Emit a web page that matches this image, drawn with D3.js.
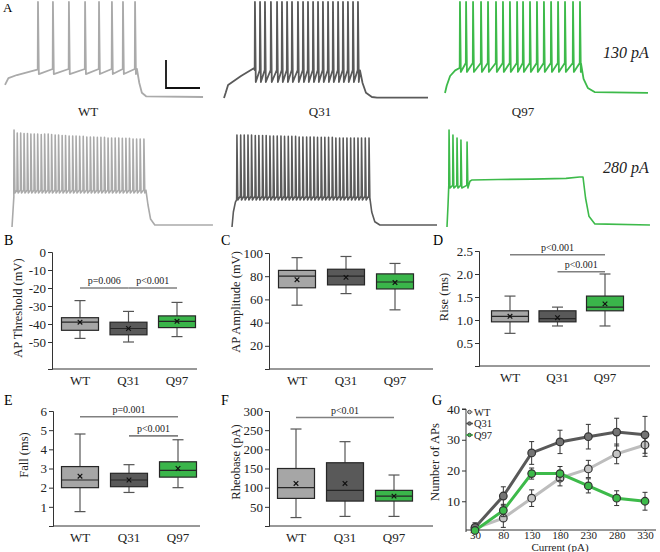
<!DOCTYPE html>
<html><head><meta charset="utf-8">
<script src="https://cdn.jsdelivr.net/npm/d3@7"></script>
<style>
body{margin:0;background:#fff}
svg{font-family:"Liberation Serif","Times New Roman",serif}
</style></head><body>
<svg id="fig" width="660" height="552"></svg>
<script>
var GROUPS = ["WT", "Q31", "Q97"];
var LINE_COL = {WT: "#aaaaaa", Q31: "#5a5a5a", Q97: "#3dba4a"};
var BOX_COL = {WT: "#a6a6a6", Q31: "#595959", Q97: "#3ab54a"};

// ---- traces (ms, mV) ----
var wt130 = {
  rise: [[0,-56.4],[20,-51.5],[70,-49.3],[190,-45.5]],
  spikes: [194,282,376,471,553,629,694,765],
  peaks: [2.9], trough: -48.6, thr: -45,
  tail: [[776,-45],[790,-55],[805,-62],[830,-64.5],[1165,-65]]
};
var q31_130 = {
  rise: [[0,-65.7],[10,-62],[24,-56.4],[100,-50],[178,-44.3]],
  spikes: [182,212,241,276,312,341,371,400,435,465,494,524,553,582,612,641,671,700,729,759,788],
  peaks: [2.9], trough: -54.3, thr: -45.7,
  tail: [[800,-46],[815,-55],[835,-62],[870,-65],[900,-65.5],[1200,-65.5]]
};
var q97_130 = {
  rise: [[0,-62.1],[10,-57],[30,-50],[60,-46],[86,-44.3]],
  spikes: [88,124,165,212,253,300,341,382,424,459,500,541,582,624,665,706,753,794],
  peaks: [2.9], trough: -47.1, thr: -40.7,
  tail: [[800,-41],[815,-52],[840,-58.5],[880,-61.5],[1194,-62]]
};
var wt280 = {
  rise: [[0,-65.7],[8,-50],[11,-44]],
  spikes: [12,31,51,71,91,111,131,151,172,192,213,233,254,274,295,315,336,357,377,398,419,440,461,481,502,523,544,565,586,607,628,649,670,691,712,733,754,776],
  peaks: [3.6,1.4,1.4,1.0,1.0,0.7,0.7,0.7,0.4,0.7,0.7,0.4,0,0,-0.4,-0.4,-0.7,-0.7,-0.7,-1.0,-1.0,-1.4,-1.4,-1.4,-1.7,-1.7,-1.7,-2.1,-2.1,-2.1,-2.1,-2.4,-2.4,-2.4,-2.9,-2.9,-2.9,-2.9],
  trough: -41.4, thr: -39.3,
  tail: [[788,-39.5],[800,-50],[815,-60],[840,-64.3],[1182,-64.3]]
};
var q31_280 = {
  rise: [[0,-65.7],[8,-55],[20,-48],[27,-46.4]],
  spikes: [29,51,72,94,115,137,158,180,201,223,244,266,288,309,331,352,374,395,417,439,460,482,503,525,546,568,590,611,633,654,676,698,719,741,762,784,806],
  peaks: [0,0,0,0,0,-0.4,-0.4,-0.4,-0.4,-0.7,-0.7,-0.7,-0.7,-1.0,-1.0,-1.0,-1.0,-1.4,-1.4,-1.4,-1.4,-1.4,-1.7,-1.7,-1.7,-1.7,-1.7,-2.1,-2.1,-2.1,-2.1,-2.1,-2.1,-2.1,-2.1,-2.1,-2.1],
  trough: -46.4, thr: -43.6,
  tail: [[810,-44],[822,-55],[840,-62],[870,-64.3],[1206,-64.3]]
};
var q97_280 = {
  rise: [[0,-65.7],[6,-50]],
  spikes: [12,35,59,82,118],
  peaks: [3.6,0,-2.1,-3.6,-5],
  trough: -37.9, thr: -36,
  tail: [[135,-33],[147,-32.1],[300,-31.8],[500,-31.5],[700,-31],[780,-30],[800,-30],[815,-45],[835,-58],[870,-63.5],[1194,-64.3]]
};
var traceLabels = ["WT", "Q31", "Q97"];
var stepLabels = ["130 pA", "280 pA"];
var scaleBar = {ms: 200, mV: 20};

// ---- box plot stats: min, q1, median, q3, max, mean ----
var thresholdStats = [
  {g:"WT", min:-48, q1:-43.5, med:-39, q3:-36.5, max:-27, mean:-39},
  {g:"Q31", min:-50, q1:-46, med:-42.5, q3:-39, max:-33, mean:-42.5},
  {g:"Q97", min:-47, q1:-42, med:-38.5, q3:-35.5, max:-28, mean:-38.5}
];
var amplitudeStats = [
  {g:"WT", min:55, q1:70, med:80, q3:85, max:96, mean:77},
  {g:"Q31", min:65, q1:72.5, med:80, q3:86, max:97, mean:79},
  {g:"Q97", min:51, q1:69, med:75, q3:82, max:91, mean:74.5}
];
var riseStats = [
  {g:"WT", min:0.71, q1:0.96, med:1.08, q3:1.2, max:1.52, mean:1.08},
  {g:"Q31", min:0.87, q1:0.96, med:1.03, q3:1.2, max:1.28, mean:1.05},
  {g:"Q97", min:0.87, q1:1.2, med:1.28, q3:1.52, max:2.0, mean:1.35}
];
var fallStats = [
  {g:"WT", min:0.75, q1:2.0, med:2.4, q3:3.1, max:4.8, mean:2.6},
  {g:"Q31", min:1.75, q1:2.05, med:2.4, q3:2.75, max:3.2, mean:2.4},
  {g:"Q97", min:2.0, q1:2.55, med:2.9, q3:3.35, max:4.5, mean:3.0}
];
var rheobaseStats = [
  {g:"WT", min:22, q1:72, med:100, q3:150, max:253, mean:111},
  {g:"Q31", min:25, q1:65, med:93, q3:165, max:220, mean:111},
  {g:"Q97", min:25, q1:65, med:78, q3:93, max:133, mean:78}
];
var thresholdSig = [{a:"WT", b:"Q31", y:-20, label:"p=0.006"}, {a:"Q31", b:"Q97", y:-20, label:"p<0.001"}];
var riseSig = [{a:"WT", b:"Q97", y:2.42, label:"p<0.001"}, {a:"Q31", b:"Q97", y:2.05, label:"p<0.001"}];
var fallSig = [{a:"WT", b:"Q97", y:5.7, label:"p=0.001"}, {a:"Q31", b:"Q97", y:4.7, label:"p<0.001"}];
var rheobaseSig = [{a:"WT", b:"Q97", y:283, label:"p<0.01"}];

// ---- panel G ----
var currents = [30, 80, 130, 180, 230, 280, 330];
var apWT = [1.2, 4.5, 11, 17.5, 20.5, 25.4, 28.3];
var apWTerr = [1, 3, 2.7, 2.5, 2.8, 3.2, 3.7];
var apQ31 = [1.5, 11.7, 25.7, 29.3, 31, 32.5, 31.6];
var apQ31err = [1.5, 3, 3.7, 3.8, 4, 4.5, 6];
var apQ97 = [0.5, 7, 19, 19, 15, 11, 10];
var apQ97err = [0.5, 2, 1.8, 2.3, 2.3, 2.4, 2.9];

var svg = d3.select("#fig");

// ================= Panel A =================
svg.append("text").attr("x", 3).attr("y", 12).attr("font-size", 13).text("A");

var traceLayout = [
  {d: wt130, x0: 5, rest: 97, g: "WT"},
  {d: q31_130, x0: 224, rest: 97, g: "Q31"},
  {d: q97_130, x0: 445, rest: 97, g: "Q97"},
  {d: wt280, x0: 12, rest: 226, g: "WT"},
  {d: q31_280, x0: 232, rest: 226, g: "Q31"},
  {d: q97_280, x0: 447, rest: 226, g: "Q97"}
];

function tracePoints(tr) {
  var pts = tr.rise.slice();
  tr.spikes.forEach(function(ts, i) {
    var pk = tr.peaks[Math.min(i, tr.peaks.length - 1)];
    pts.push([ts - 1.5, tr.thr]);
    pts.push([ts, pk]);
    pts.push([ts + 5, tr.trough]);
  });
  return pts.concat(tr.tail);
}

var firstScales;
traceLayout.forEach(function(L, i) {
  var xs = d3.scaleLinear().domain([0, 1000]).range([L.x0, L.x0 + 170]);
  var ys = d3.scaleLinear().domain([-65, 5]).range([L.rest, L.rest - 98]);
  if (i == 0) firstScales = {x: xs, y: ys};
  var line = d3.line().x(function(p){ return xs(p[0]); }).y(function(p){ return ys(p[1]); });
  svg.append("path")
    .attr("d", line(tracePoints(L.d)))
    .attr("fill", "none")
    .attr("stroke", LINE_COL[L.g])
    .attr("stroke-width", i < 3 ? 1.8 : 1.6)
    .attr("stroke-linejoin", "round");
});

// scale bar
var sbx = 166, sby = 88;
var sbw = firstScales.x(scaleBar.ms) - firstScales.x(0);
var sbh = firstScales.y(-65) - firstScales.y(-65 + scaleBar.mV);
svg.append("path")
  .attr("d", "M" + sbx + "," + (sby - sbh) + "V" + sby + "H" + (sbx + sbw))
  .attr("fill", "none").attr("stroke", "#111").attr("stroke-width", 1.8);

[88, 320, 523].forEach(function(x, i) {
  svg.append("text").attr("x", x).attr("y", 116).attr("text-anchor", "middle")
    .attr("font-size", 13).attr("fill", "#222").text(traceLabels[i]);
});
[58, 173].forEach(function(y, i) {
  svg.append("text").attr("x", 626).attr("y", y).attr("text-anchor", "middle")
    .attr("font-size", 16).attr("font-style", "italic").attr("fill", "#222").text(stepLabels[i]);
});

// ================= box panels =================
function boxPanel(o) {
  var y = d3.scaleLinear().domain(o.domain).range([o.yBottom, o.yTop]);
  var x = d3.scalePoint().domain(GROUPS).range(o.cats);
  var g = svg.append("g");
  var bw = 37, cw = 11;
  var fmt = o.fmt || d3.format("d");

  g.append("text").attr("x", o.letterX).attr("y", o.letterY).attr("font-size", 14).text(o.letter);

  // y axis
  var ya = d3.axisLeft(y).tickValues(o.ticks).tickSize(4).tickPadding(2).tickFormat(fmt);
  var yg = g.append("g").attr("transform", "translate(" + o.axisX + ",0)").call(ya);
  yg.select(".domain").attr("stroke", "#333");
  yg.selectAll(".tick line").attr("stroke", "#333");
  yg.selectAll("text").attr("font-size", 13).attr("font-family", "Liberation Serif").attr("fill", "#222")
    .text(function(d){ return fmt(d).replace("\u2212", "-"); });

  g.append("line").attr("x1", o.axisX).attr("x2", o.axisEnd).attr("y1", o.yBottom).attr("y2", o.yBottom)
    .attr("stroke", "#333");
  GROUPS.forEach(function(c) {
    g.append("text").attr("x", x(c)).attr("y", o.yBottom + 16).attr("text-anchor", "middle")
      .attr("font-size", 13).attr("fill", "#222").text(c);
  });

  g.append("text")
    .attr("transform", "translate(" + o.labelX + "," + o.labelY + ") rotate(-90)")
    .attr("text-anchor", "middle").attr("font-size", 12.5).attr("fill", "#222").text(o.label);

  o.stats.forEach(function(s) {
    var cx = x(s.g);
    // whiskers
    g.append("line").attr("x1", cx).attr("x2", cx).attr("y1", y(s.max)).attr("y2", y(s.q3)).attr("stroke", "#555").attr("stroke-width", 1.2);
    g.append("line").attr("x1", cx).attr("x2", cx).attr("y1", y(s.q1)).attr("y2", y(s.min)).attr("stroke", "#555").attr("stroke-width", 1.2);
    [s.max, s.min].forEach(function(v) {
      g.append("line").attr("x1", cx - cw / 2).attr("x2", cx + cw / 2).attr("y1", y(v)).attr("y2", y(v))
        .attr("stroke", "#555").attr("stroke-width", 1.2);
    });
    g.append("rect").attr("x", cx - bw / 2).attr("y", y(s.q3)).attr("width", bw).attr("height", y(s.q1) - y(s.q3))
      .attr("fill", BOX_COL[s.g]).attr("stroke", "#262626").attr("stroke-width", 1.2);
    g.append("line").attr("x1", cx - bw / 2).attr("x2", cx + bw / 2).attr("y1", y(s.med)).attr("y2", y(s.med))
      .attr("stroke", "#262626").attr("stroke-width", 1.2);
    var my = y(s.mean), k = 2.3;
    g.append("path").attr("d", "M" + (cx - k) + "," + (my - k) + "L" + (cx + k) + "," + (my + k) +
        "M" + (cx - k) + "," + (my + k) + "L" + (cx + k) + "," + (my - k))
      .attr("stroke", "#111").attr("stroke-width", 1.2);
  });

  (o.sig || []).forEach(function(s) {
    var x1 = x(s.a), x2 = x(s.b), yy = y(s.y);
    g.append("line").attr("x1", x1).attr("x2", x2).attr("y1", yy).attr("y2", yy)
      .attr("stroke", "#808080").attr("stroke-width", 1.6);
    g.append("text").attr("x", (x1 + x2) / 2).attr("y", yy - 4).attr("text-anchor", "middle")
      .attr("font-size", 10).attr("fill", "#222").text(s.label);
  });
}

boxPanel({letter: "B", letterX: 4, letterY: 245, stats: thresholdStats, sig: thresholdSig,
  domain: [-65, 0], yTop: 252, yBottom: 369, ticks: [0, -10, -20, -30, -40, -50],
  axisX: 52, axisEnd: 197, cats: [80, 177], label: "AP Threshold (mV)", labelX: 22, labelY: 308});
boxPanel({letter: "C", letterX: 221, letterY: 245, stats: amplitudeStats,
  domain: [0, 100], yTop: 253, yBottom: 369, ticks: [20, 40, 60, 80, 100],
  axisX: 269, axisEnd: 433, cats: [297, 395], label: "AP Amplitude (mV)", labelX: 240, labelY: 302});
boxPanel({letter: "D", letterX: 433, letterY: 245, stats: riseStats, sig: riseSig,
  domain: [0, 2.5], yTop: 251, yBottom: 366, ticks: [0.5, 1.0, 1.5, 2.0, 2.5], fmt: d3.format(".1f"),
  axisX: 479, axisEnd: 650, cats: [510, 605], label: "Rise (ms)", labelX: 448, labelY: 297});
boxPanel({letter: "E", letterX: 4, letterY: 405, stats: fallStats, sig: fallSig,
  domain: [0, 6], yTop: 411, yBottom: 526, ticks: [1, 2, 3, 4, 5, 6],
  axisX: 53, axisEnd: 200, cats: [80, 178], label: "Fall (ms)", labelX: 28, labelY: 455});
boxPanel({letter: "F", letterX: 221, letterY: 405, stats: rheobaseStats, sig: rheobaseSig,
  domain: [0, 300], yTop: 411, yBottom: 526, ticks: [50, 100, 150, 200, 250, 300],
  axisX: 269, axisEnd: 433, cats: [296, 394], label: "Rheobase (pA)", labelX: 240, labelY: 462});

// ================= Panel G =================
(function() {
  var x = d3.scaleLinear().domain([30, 330]).range([475, 645]);
  var y = d3.scaleLinear().domain([0, 40]).range([532, 409]);
  var g = svg.append("g");
  g.append("text").attr("x", 432).attr("y", 405).attr("font-size", 14).text("G");

  var ya = d3.axisLeft(y).tickValues([10, 20, 30, 40]).tickSize(4).tickPadding(2);
  var yg = g.append("g").attr("transform", "translate(466,0)").call(ya);
  yg.select(".domain").attr("d", "M-4," + y(40) + "H0V" + y(0));
  yg.selectAll("path,line").attr("stroke", "#333");
  yg.selectAll("text").attr("font-size", 13).attr("font-family", "Liberation Serif").attr("fill", "#222");

  var xa = d3.axisBottom(x).tickValues(currents).tickSize(1).tickPadding(0);
  var xg = g.append("g").attr("transform", "translate(0,530)").call(xa);
  xg.select(".domain").attr("d", "M466,0H656");
  xg.selectAll("path,line").attr("stroke", "#333");
  xg.selectAll("text").attr("font-size", 11).attr("font-family", "Liberation Serif").attr("fill", "#222");

  g.append("text").attr("x", 560).attr("y", 551).attr("text-anchor", "middle").attr("font-size", 11)
    .attr("fill", "#222").text("Current (pA)");
  g.append("text").attr("transform", "translate(439,462) rotate(-90)").attr("text-anchor", "middle")
    .attr("font-size", 12.5).attr("fill", "#222").text("Number of APs");

  var series = [
    {g: "WT", v: apWT, e: apWTerr, line: "#bdbdbd", fill: "#c4c4c4"},
    {g: "Q31", v: apQ31, e: apQ31err, line: "#595959", fill: "#747474"},
    {g: "Q97", v: apQ97, e: apQ97err, line: "#3dba4a", fill: "#3dba4a"}
  ];
  var line = d3.line().x(function(d, i){ return x(currents[i]); }).y(function(d){ return y(d); });
  series.forEach(function(s) {
    g.append("path").attr("d", line(s.v)).attr("fill", "none").attr("stroke", s.line)
      .attr("stroke-width", 3);
    s.v.forEach(function(v, i) {
      var cx = x(currents[i]);
      g.append("path").attr("d", "M" + cx + "," + y(v + s.e[i]) + "V" + y(v - s.e[i]) +
          "M" + (cx - 2.5) + "," + y(v + s.e[i]) + "h5M" + (cx - 2.5) + "," + y(v - s.e[i]) + "h5")
        .attr("stroke", "#333").attr("stroke-width", 1);
    });
    s.v.forEach(function(v, i) {
      g.append("circle").attr("cx", x(currents[i])).attr("cy", y(v)).attr("r", 3.8)
        .attr("fill", s.fill).attr("stroke", "#333").attr("stroke-width", 1.2);
    });
  });

  series.forEach(function(s, i) {
    var ly = 412 + i * 11.5;
    g.append("line").attr("x1", 466).attr("x2", 473).attr("y1", ly).attr("y2", ly)
      .attr("stroke", s.line).attr("stroke-width", 1.5);
    g.append("circle").attr("cx", 469.5).attr("cy", ly).attr("r", 1.8).attr("fill", s.fill).attr("stroke", "#333").attr("stroke-width", 0.8);
    g.append("text").attr("x", 474).attr("y", ly + 3.5).attr("font-size", 10.5).attr("fill", "#222").text(s.g);
  });
})();
</script>
</body></html>
